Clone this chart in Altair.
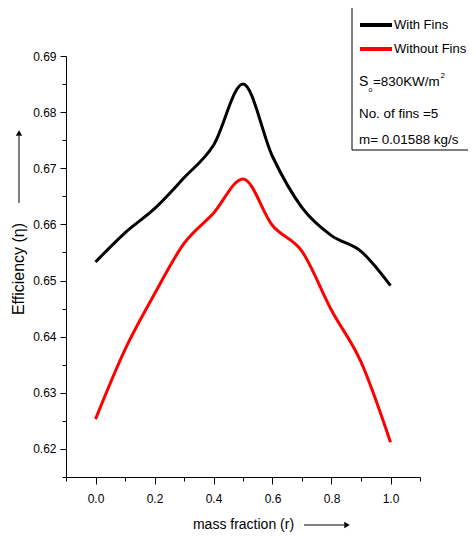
import altair as alt
import pandas as pd

# ---- data ----
r_values = [0.0, 0.1, 0.2, 0.3, 0.4, 0.5, 0.6, 0.7, 0.8, 0.9, 1.0]
with_fins = [0.6533, 0.6585, 0.6628, 0.6683, 0.6741, 0.6850, 0.6721, 0.6630, 0.6580, 0.6552, 0.6491]
without_fins = [0.6253, 0.6377, 0.6476, 0.6566, 0.6620, 0.6681, 0.6598, 0.6552, 0.6447, 0.6355, 0.6212]
series_names = ["With Fins", "Without Fins"]
series_colors = ["#000000", "#ff0000"]
x_tick_values = [-0.1, 0.0, 0.1, 0.2, 0.3, 0.4, 0.5, 0.6, 0.7, 0.8, 0.9, 1.0, 1.1]
y_tick_values = [0.615, 0.62, 0.625, 0.63, 0.635, 0.64, 0.645, 0.65, 0.655,
                 0.66, 0.665, 0.67, 0.675, 0.68, 0.685, 0.69]
x_domain = [-0.1, 1.1]
y_domain = [0.615, 0.69]

rows = []
for name, vals in zip(series_names, [with_fins, without_fins]):
    for r, v in zip(r_values, vals):
        rows.append({"r": r, "eff": v, "series": name})
df = pd.DataFrame(rows)

W, H = 354, 421
FONT = "Liberation Sans"

x_enc = alt.X(
    "r:Q",
    scale=alt.Scale(domain=x_domain, nice=False, zero=False),
    axis=alt.Axis(
        values=x_tick_values,
        labelExpr="abs(round(datum.value*10)) % 2 == 0 ? format(datum.value, '.1f') : ''",
        tickSize={"condition": {"test": "abs(round(datum.value*10)) % 2 == 0", "value": 7}, "value": 4},
        labelPadding=9,
        title="mass fraction (r)",
        titleFontSize=14,
        titleFontWeight="normal",
        titleY=47,
        titleBaseline="middle",
        grid=False,
    ),
)
y_enc = alt.Y(
    "eff:Q",
    scale=alt.Scale(domain=y_domain, nice=False, zero=False),
    axis=alt.Axis(
        values=y_tick_values,
        labelExpr="round(datum.value*200) % 2 == 0 ? format(datum.value, '.2f') : ''",
        tickSize={"condition": {"test": "round(datum.value*200) % 2 == 0", "value": 6}, "value": 4},
        labelPadding=4,
        title="Efficiency (\u03b7)",
        titleFontSize=16,
        titleFontWeight="normal",
        titleX=-48,
        titleY=H / 2 + 2,
        titleAngle=-90,
        titleAlign="center",
        titleBaseline="middle",
        grid=False,
    ),
)

lines = alt.Chart(df).mark_line(interpolate="monotone", strokeWidth=3).encode(
    x=x_enc,
    y=y_enc,
    color=alt.Color("series:N", scale=alt.Scale(domain=series_names, range=series_colors), legend=None),
    detail="series:N",
)

one = alt.Data(values=[{"k": 0}])

# legend box (pixel positions relative to the plot area)
box = alt.Chart(one).mark_rect(fill="white", stroke="black", strokeWidth=1).encode(
    x=alt.value(286), x2=alt.value(430), y=alt.value(-50), y2=alt.value(94)
)
leg_black = alt.Chart(one).mark_rule(color="#000000", strokeWidth=4).encode(
    x=alt.value(294), x2=alt.value(326), y=alt.value(-31)
)
leg_red = alt.Chart(one).mark_rule(color="#ff0000", strokeWidth=4).encode(
    x=alt.value(294), x2=alt.value(326), y=alt.value(-7)
)

def txt(s, x, y, size=13.4):
    return alt.Chart(one).mark_text(
        text=s, align="left", baseline="middle", fontSize=size, font=FONT, color="black"
    ).encode(x=alt.value(x), y=alt.value(y))

texts = [
    txt("With Fins", 328, -31, 13),
    txt("Without Fins", 328, -7, 13),
    txt("S", 293, 25.5, 14),
    txt("o", 302.5, 34, 7),
    txt("=830KW/m", 307, 25.5),
    txt("2", 374.5, 20, 8),
    txt("No. of fins =5", 293, 57.5),
    txt("m= 0.01588 kg/s", 293, 83.5),
]

# axis arrows
y_arrow = alt.Chart(one).mark_rule(color="black", strokeWidth=1).encode(
    x=alt.value(-47), y=alt.value(147), y2=alt.value(80)
)
y_head = alt.Chart(one).mark_point(shape="triangle-up", filled=True, color="black", size=40, opacity=1).encode(
    x=alt.value(-47), y=alt.value(77)
)
x_arrow = alt.Chart(one).mark_rule(color="black", strokeWidth=1).encode(
    x=alt.value(238), x2=alt.value(278), y=alt.value(469)
)
x_head = alt.Chart(one).mark_point(shape="triangle-right", filled=True, color="black", size=40, opacity=1).encode(
    x=alt.value(281), y=alt.value(469)
)

chart = alt.layer(lines, box, leg_black, leg_red, *texts, y_arrow, y_head, x_arrow, x_head).properties(
    width=W,
    height=H,
    autosize=alt.AutoSizeParams(type="none"),
    padding={"left": 58, "top": 48, "right": 48, "bottom": 55},
).configure(
    font=FONT,
).configure_view(
    stroke=None,
).configure_axis(
    domainColor="black",
    domainWidth=1,
    tickColor="black",
    tickWidth=1,
    labelColor="black",
    labelFont=FONT,
    labelFontSize=12,
    titleColor="black",
    titleFont=FONT,
)

chart.save("out.html", embed_options={"renderer": "svg", "actions": False})
